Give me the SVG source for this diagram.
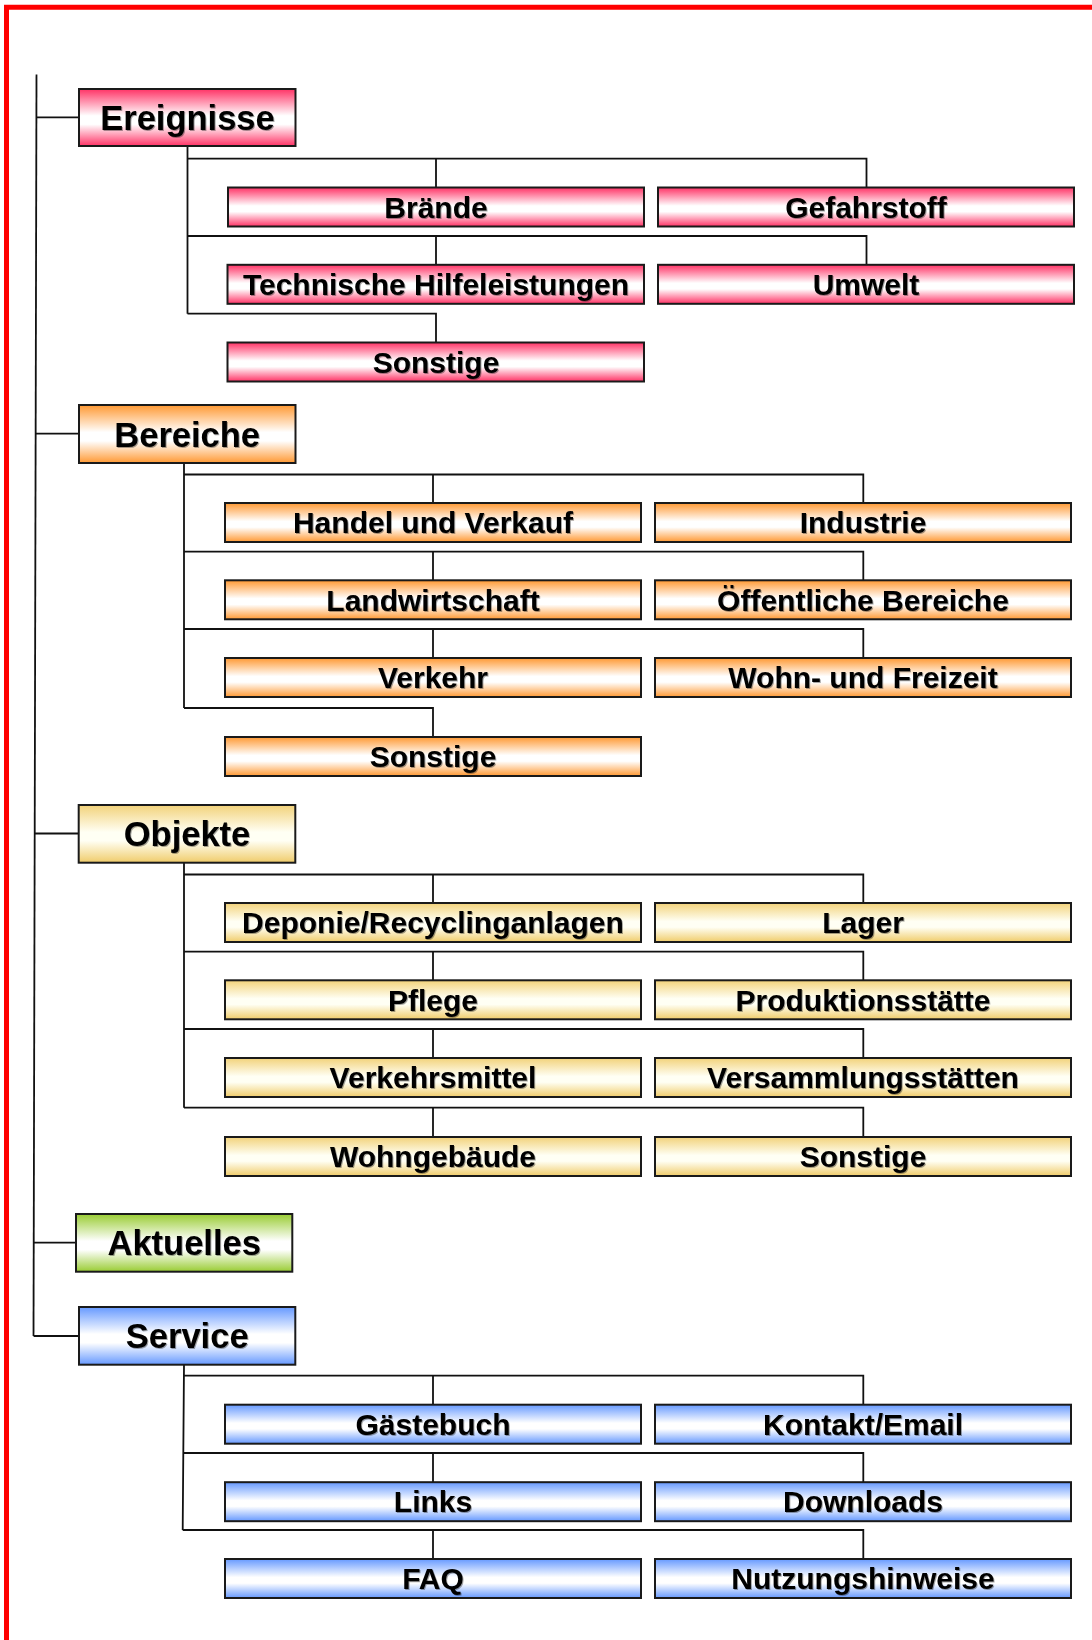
<svg xmlns="http://www.w3.org/2000/svg" width="1092" height="1640" viewBox="0 0 1092 1640">
<defs>
<linearGradient id="gR" x1="0" y1="0" x2="0" y2="1"><stop offset="0" stop-color="#FF3366"/><stop offset="0.47" stop-color="#FFFFFF"/><stop offset="0.62" stop-color="#FFFFFF"/><stop offset="1" stop-color="#FF3366"/></linearGradient>
<linearGradient id="gO" x1="0" y1="0" x2="0" y2="1"><stop offset="0" stop-color="#FF9933"/><stop offset="0.47" stop-color="#FFFFFF"/><stop offset="0.62" stop-color="#FFFFFF"/><stop offset="1" stop-color="#FF9933"/></linearGradient>
<linearGradient id="gY" x1="0" y1="0" x2="0" y2="1"><stop offset="0" stop-color="#F2D27A"/><stop offset="0.47" stop-color="#FFFFF4"/><stop offset="0.62" stop-color="#FFFFF4"/><stop offset="1" stop-color="#F0CC6A"/></linearGradient>
<linearGradient id="gG" x1="0" y1="0" x2="0" y2="1"><stop offset="0" stop-color="#99CC33"/><stop offset="0.47" stop-color="#FFFFFF"/><stop offset="0.62" stop-color="#FFFFFF"/><stop offset="1" stop-color="#99CC33"/></linearGradient>
<linearGradient id="gB" x1="0" y1="0" x2="0" y2="1"><stop offset="0" stop-color="#6699FF"/><stop offset="0.47" stop-color="#FFFFFF"/><stop offset="0.62" stop-color="#FFFFFF"/><stop offset="1" stop-color="#6699FF"/></linearGradient>
<filter id="sh" x="-5%" y="-20%" width="110%" height="140%"><feDropShadow dx="1" dy="1" stdDeviation="0.6" flood-color="#000" flood-opacity="0.35"/></filter>
<style>
.box{stroke:#1a1a1a;stroke-width:2}
.r{fill:url(#gR)} .o{fill:url(#gO)} .y{fill:url(#gY)} .g{fill:url(#gG)} .b{fill:url(#gB)}
text{font-family:"Liberation Sans",Arial,sans-serif;font-weight:bold;fill:#000;text-anchor:middle;filter:url(#sh)}
.m{font-size:34.5px} .c{font-size:30px}
.ln{fill:none;stroke:#111;stroke-width:1.8}
</style>
</defs>
<rect width="1092" height="1640" fill="#fff"/>
<path d="M6.5,1640 V7.3 H1092" fill="none" stroke="#FF0000" stroke-width="5"/>

<g id="connectors" class="ln">
<path d="M36.5,74.5 L33.5,1336"/>
<path d="M36.4,117.3 H79 M35.7,433.7 H79 M34.6,833.5 H78.7 M34,1242.7 H76 M33.6,1336 H79"/>
<path d="M187.5,145.5 V313.7 M187.5,158.7 H866.5 V187.5 M436,158.7 V187.5 M187.5,236 H866.5 V264.8 M436,236 V264.8 M187.5,313.7 H436 V342.5"/>
<path d="M184,463.3 V708 M184,474.5 H863.3 V503 M433,474.5 V503 M184,551.7 H863.3 V580.3 M433,551.7 V580.3 M184,629 H863.3 V658 M433,629 V658 M184,708 H433 V737"/>
<path d="M184,862.7 V1107.7 M184,874.5 H863.3 V903 M433,874.5 V903 M184,951.7 H863.3 V980.3 M433,951.7 V980.3 M184,1029 H863.3 V1058 M433,1029 V1058 M184,1107.7 H863.3 V1137 M433,1107.7 V1137"/>
<path d="M184,1364.7 L182.7,1530 M184,1375.7 H863.3 V1404.7 M433,1375.7 V1404.7 M183.5,1453 H863.3 V1482.2 M433,1453 V1482.2 M182.7,1530 H863.3 V1559 M433,1530 V1559"/>
</g>

<g id="ereignisse"><rect class="box r" x="79" y="89" width="216.5" height="57"/><text class="m" x="187.5" y="129.5">Ereignisse</text></g>
<g id="braende"><rect class="box r" x="228" y="187.5" width="416" height="39"/><text class="c" x="436" y="217.7">Brände</text></g>
<g id="gefahrstoff"><rect class="box r" x="658" y="187.5" width="416" height="39"/><text class="c" x="866" y="217.7">Gefahrstoff</text></g>
<g id="technische"><rect class="box r" x="227.5" y="264.8" width="416.5" height="39"/><text class="c" x="436" y="295">Technische Hilfeleistungen</text></g>
<g id="umwelt"><rect class="box r" x="658" y="264.8" width="416" height="39"/><text class="c" x="866" y="295">Umwelt</text></g>
<g id="sonstige1"><rect class="box r" x="227.5" y="342.5" width="416.5" height="39"/><text class="c" x="436" y="372.7">Sonstige</text></g>

<g id="bereiche"><rect class="box o" x="79" y="405" width="216.5" height="58"/><text class="m" x="187.2" y="446.5">Bereiche</text></g>
<g id="handel"><rect class="box o" x="225" y="503" width="416" height="39"/><text class="c" x="433" y="533.2">Handel und Verkauf</text></g>
<g id="industrie"><rect class="box o" x="655" y="503" width="416" height="39"/><text class="c" x="863" y="533.2">Industrie</text></g>
<g id="landwirtschaft"><rect class="box o" x="225" y="580.3" width="416" height="39"/><text class="c" x="433" y="610.5">Landwirtschaft</text></g>
<g id="oeffentliche"><rect class="box o" x="655" y="580.3" width="416" height="39"/><text class="c" x="863" y="610.5">Öffentliche Bereiche</text></g>
<g id="verkehr"><rect class="box o" x="225" y="658" width="416" height="39"/><text class="c" x="433" y="688.2">Verkehr</text></g>
<g id="wohn"><rect class="box o" x="655" y="658" width="416" height="39"/><text class="c" x="863" y="688.2">Wohn- und Freizeit</text></g>
<g id="sonstige2"><rect class="box o" x="225" y="737" width="416" height="39"/><text class="c" x="433" y="767.2">Sonstige</text></g>

<g id="objekte"><rect class="box y" x="78.7" y="805" width="216.6" height="57.7"/><text class="m" x="187" y="846">Objekte</text></g>
<g id="deponie"><rect class="box y" x="225" y="903" width="416" height="39"/><text class="c" x="433" y="933.2">Deponie/Recyclinganlagen</text></g>
<g id="lager"><rect class="box y" x="655" y="903" width="416" height="39"/><text class="c" x="863" y="933.2">Lager</text></g>
<g id="pflege"><rect class="box y" x="225" y="980.3" width="416" height="39"/><text class="c" x="433" y="1010.5">Pflege</text></g>
<g id="produktion"><rect class="box y" x="655" y="980.3" width="416" height="39"/><text class="c" x="863" y="1010.5">Produktionsstätte</text></g>
<g id="verkehrsmittel"><rect class="box y" x="225" y="1058" width="416" height="39"/><text class="c" x="433" y="1088.2">Verkehrsmittel</text></g>
<g id="versammlung"><rect class="box y" x="655" y="1058" width="416" height="39"/><text class="c" x="863" y="1088.2">Versammlungsstätten</text></g>
<g id="wohngebaeude"><rect class="box y" x="225" y="1137" width="416" height="39"/><text class="c" x="433" y="1167.2">Wohngebäude</text></g>
<g id="sonstige3"><rect class="box y" x="655" y="1137" width="416" height="39"/><text class="c" x="863" y="1167.2">Sonstige</text></g>

<g id="aktuelles"><rect class="box g" x="76" y="1214" width="216.3" height="57.7"/><text class="m" x="184.2" y="1255">Aktuelles</text></g>

<g id="service"><rect class="box b" x="79" y="1307" width="216.3" height="57.7"/><text class="m" x="187.2" y="1348">Service</text></g>
<g id="gaestebuch"><rect class="box b" x="225" y="1404.7" width="416" height="39"/><text class="c" x="433" y="1434.9">Gästebuch</text></g>
<g id="kontakt"><rect class="box b" x="655" y="1404.7" width="416" height="39"/><text class="c" x="863" y="1434.9">Kontakt/Email</text></g>
<g id="links"><rect class="box b" x="225" y="1482.2" width="416" height="39"/><text class="c" x="433" y="1512.4">Links</text></g>
<g id="downloads"><rect class="box b" x="655" y="1482.2" width="416" height="39"/><text class="c" x="863" y="1512.4">Downloads</text></g>
<g id="faq"><rect class="box b" x="225" y="1559" width="416" height="39"/><text class="c" x="433" y="1589.2">FAQ</text></g>
<g id="nutzung"><rect class="box b" x="655" y="1559" width="416" height="39"/><text class="c" x="863" y="1589.2">Nutzungshinweise</text></g>
</svg>
